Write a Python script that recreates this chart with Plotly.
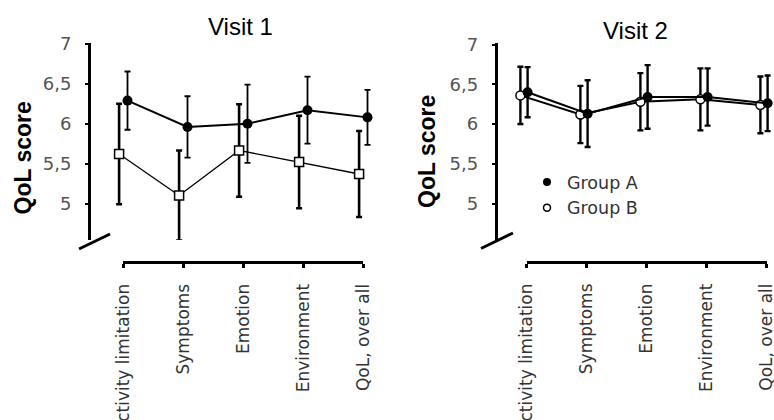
import plotly.graph_objects as go

# ---------------- data ----------------
categories = ["Activity limitation", "Symptoms", "Emotion", "Environment", "QoL, over all"]
y_tick_vals = [5, 5.5, 6, 6.5, 7]
y_tick_text = ["5", "5,5", "6", "6,5", "7"]

v1_a_mean = [6.29, 5.96, 6.00, 6.17, 6.08]
v1_a_sd = [0.365, 0.385, 0.49, 0.42, 0.345]
v1_b_mean = [5.62, 5.10, 5.665, 5.52, 5.37]
v1_b_sd = [0.63, 0.565, 0.58, 0.58, 0.54]

v2_a_mean = [6.40, 6.13, 6.34, 6.34, 6.26]
v2_a_sd = [0.315, 0.42, 0.40, 0.36, 0.35]
v2_b_mean = [6.36, 6.12, 6.28, 6.31, 6.24]
v2_b_sd = [0.36, 0.36, 0.36, 0.39, 0.357]

group_names = ["Group A", "Group B"]
panel_titles = ["Visit 1", "Visit 2"]
y_title = "QoL score"

# ---------------- layout helpers ----------------
W, H = 774, 420
FONT = "Liberation Sans, Arial, sans-serif"
WIDE = "DejaVu Sans, Verdana, sans-serif"


def px(p):
    return p / W


def py(p):
    return 1 - p / H


idx = list(range(len(categories)))

fig = go.Figure()


def add_panel(xa, ya, a_mean, a_sd, b_mean, b_sd, dodge_a, dodge_b, b_symbol, thick_a, thick_b, bline):
    fig.add_trace(go.Scatter(
        x=[i + dodge_b for i in idx], y=b_mean, xaxis=xa, yaxis=ya,
        mode="lines+markers", showlegend=False, cliponaxis=False,
        line=dict(color="black", width=bline),
        marker=dict(symbol=b_symbol, size=9, color="white", line=dict(color="black", width=1.5)),
        error_y=dict(type="data", array=b_sd, color="black", thickness=thick_b, width=3),
    ))
    fig.add_trace(go.Scatter(
        x=[i + dodge_a for i in idx], y=a_mean, xaxis=xa, yaxis=ya,
        mode="lines+markers", showlegend=False, cliponaxis=False,
        line=dict(color="black", width=2),
        marker=dict(symbol="circle", size=10, color="black"),
        error_y=dict(type="data", array=a_sd, color="black", thickness=thick_a, width=3),
    ))


add_panel("x", "y", v1_a_mean, v1_a_sd, v1_b_mean, v1_b_sd, 0.07, -0.07, "square", 1.8, 2.6, 1.3)
add_panel("x2", "y2", v2_a_mean, v2_a_sd, v2_b_mean, v2_b_sd, 0.015, -0.105, "circle", 2.4, 2.4, 2)

# invisible traces so the category axes get drawn
fig.add_trace(go.Scatter(x=[0, 4], y=[None, None], xaxis="x3", yaxis="y", showlegend=False, hoverinfo="skip"))
fig.add_trace(go.Scatter(x=[0, 4], y=[None, None], xaxis="x4", yaxis="y2", showlegend=False, hoverinfo="skip"))

# legend entries
fig.add_trace(go.Scatter(x=[None], y=[None], xaxis="x2", yaxis="y2", mode="markers", name=group_names[0],
                         marker=dict(symbol="circle", size=8, color="black")))
fig.add_trace(go.Scatter(x=[None], y=[None], xaxis="x2", yaxis="y2", mode="markers", name=group_names[1],
                         marker=dict(symbol="circle", size=7, color="white", line=dict(color="black", width=1.5))))

hidden = dict(visible=False, showgrid=False, zeroline=False, automargin=False)

step = 60.0
l_x0, r_x0 = 123.3, 526.7       # pixel of first category
y_top, y_bot = 43, 240


def yaxis_cfg(anchor, scale):
    return dict(
        anchor=anchor, domain=[py(y_bot), py(y_top)],
        range=[5 + (203.5 - y_bot) / scale, 5 + (203.5 - y_top) / scale],
        showline=True, linecolor="black", linewidth=3,
        ticks="outside", ticklen=3, tickwidth=2, tickcolor="black",
        tickvals=y_tick_vals, ticktext=y_tick_text,
        tickfont=dict(family=WIDE, size=18, color="#555"),
        ticklabelstandoff=10, automargin=False,
        showgrid=False, zeroline=False,
    )


def cat_axis(x0, ypos):
    return dict(
        domain=[px(x0), px(x0 + 4 * step)], range=[0, 4], anchor="free", position=py(ypos),
        showline=True, linecolor="black", linewidth=3,
        ticks="outside", ticklen=4, tickwidth=3, tickcolor="black",
        tickvals=idx, ticktext=categories, tickangle=-90,
        tickfont=dict(family=WIDE, size=17, color="#333"),
        ticklabelstandoff=9, automargin=False, ticklabeloverflow="allow",
        showgrid=False, zeroline=False,
    )


fig.update_layout(
    width=W, height=H,
    margin=dict(l=0, r=0, t=0, b=0, autoexpand=False),
    paper_bgcolor="white", plot_bgcolor="rgba(0,0,0,0)",
    font=dict(family=FONT, color="black"),
    hovermode=False,
    xaxis=dict(domain=[px(91), px(385)], range=[(91 - l_x0) / step, (385 - l_x0) / step], **hidden),
    xaxis2=dict(domain=[px(497.7), 1.0], range=[(497.7 - r_x0) / step, (774 - r_x0) / step], **hidden),
    yaxis=yaxis_cfg("x", 79.75),
    yaxis2=yaxis_cfg("x2", 79.5),
    xaxis3=cat_axis(l_x0, 262),
    xaxis4=cat_axis(r_x0, 261.7),
    showlegend=True,
    legend=dict(x=px(527), y=py(164), xanchor="left", yanchor="top",
                font=dict(family=WIDE, size=17.5, color="#333"),
                bgcolor="rgba(0,0,0,0)", tracegroupgap=0, itemclick=False),
    shapes=[
        dict(type="line", xref="paper", yref="paper", x0=px(79), y0=py(249), x1=px(110), y1=py(234),
             line=dict(color="black", width=3)),
        dict(type="line", xref="paper", yref="paper", x0=px(481), y0=py(248.5), x1=px(513), y1=py(233),
             line=dict(color="black", width=3)),
    ],
    annotations=[
        dict(text=panel_titles[0], x=px(240.5), y=py(26), xref="paper", yref="paper", showarrow=False,
             xanchor="center", yanchor="middle", font=dict(family=FONT, size=24, color="black")),
        dict(text=panel_titles[1], x=px(635), y=py(31), xref="paper", yref="paper", showarrow=False,
             xanchor="center", yanchor="middle", font=dict(family=FONT, size=24, color="black")),
        dict(text="<b>" + y_title + "</b>", x=px(22.5), y=py(158), xref="paper", yref="paper", showarrow=False,
             textangle=-90, xanchor="center", yanchor="middle", font=dict(family=FONT, size=23, color="black")),
        dict(text="<b>" + y_title + "</b>", x=px(427), y=py(152), xref="paper", yref="paper", showarrow=False,
             textangle=-90, xanchor="center", yanchor="middle", font=dict(family=FONT, size=23, color="black")),
    ],
)

fig.write_html("out.html", config={"displayModeBar": False, "staticPlot": True},
               post_script="document.body.style.margin='0';")
